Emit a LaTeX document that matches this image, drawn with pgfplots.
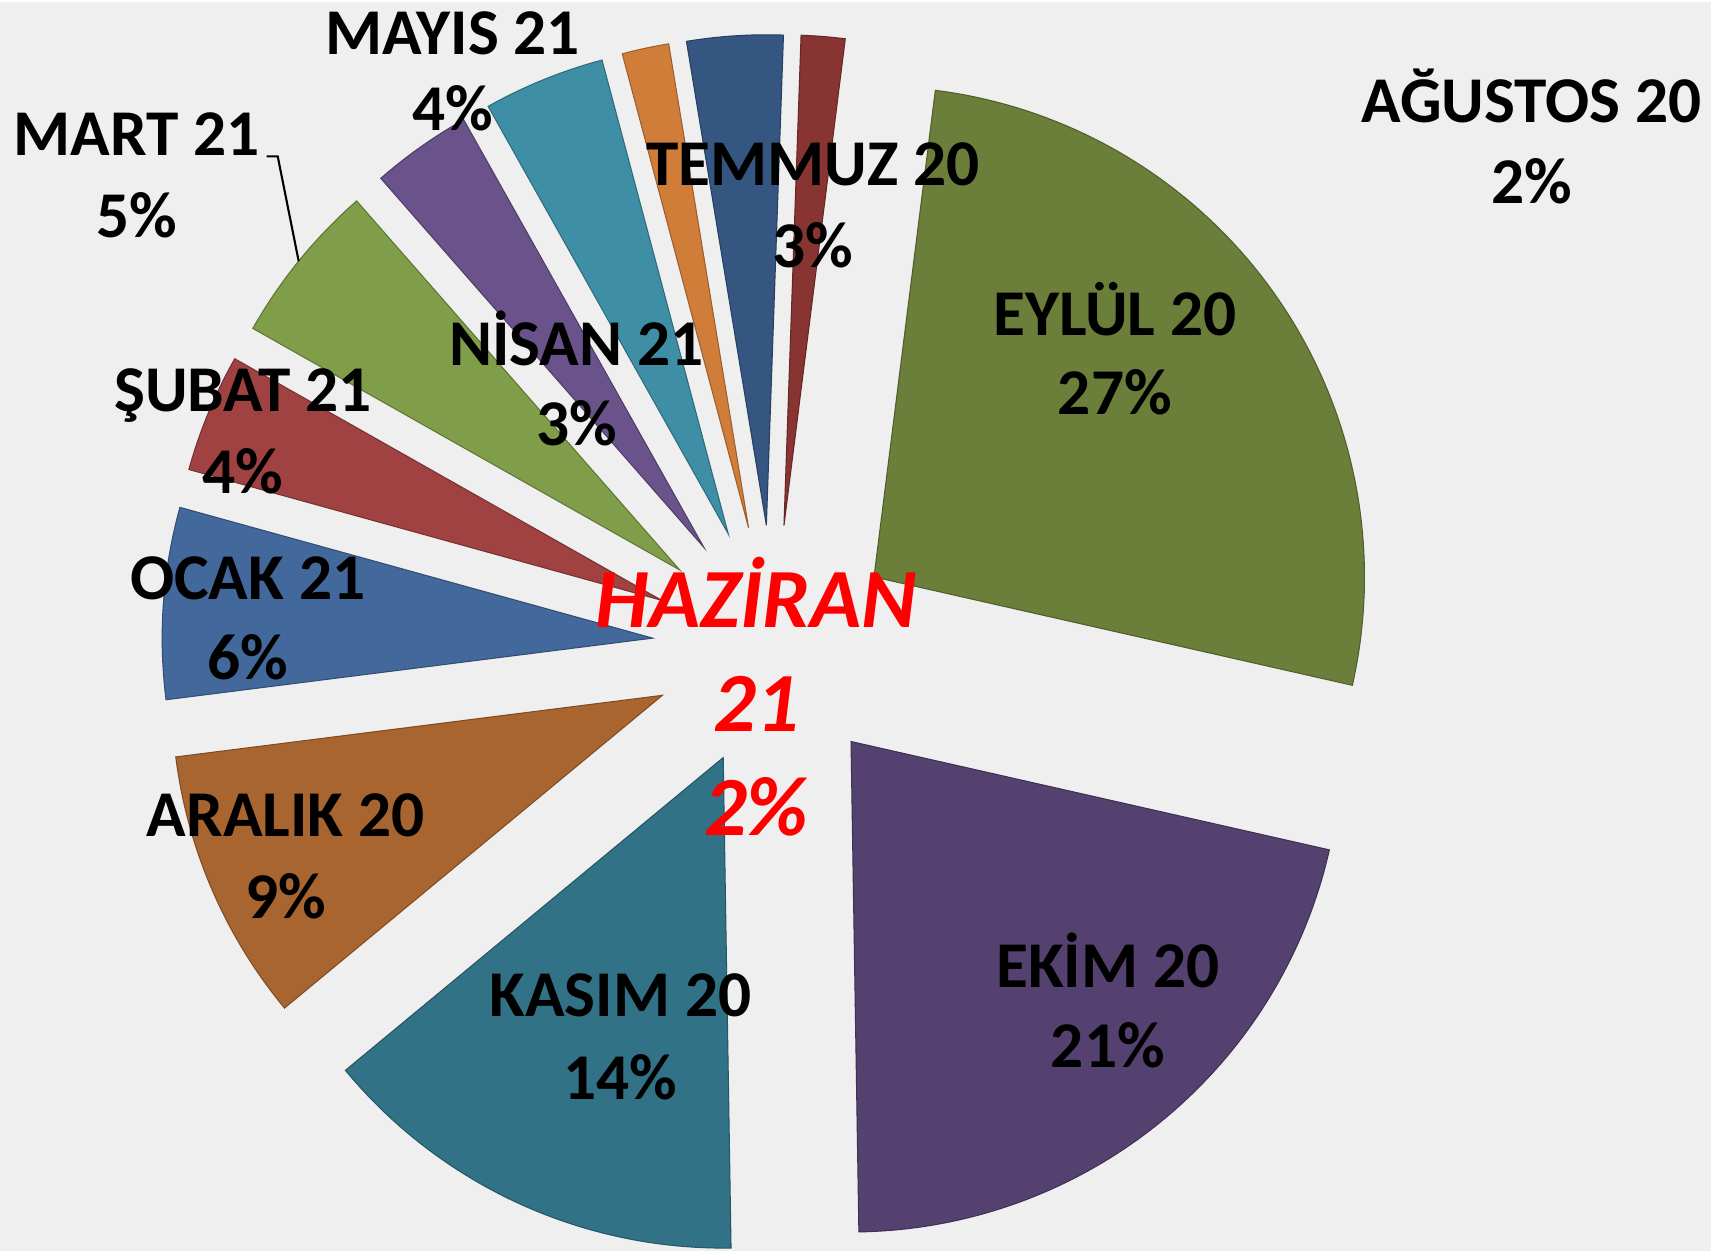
\documentclass[border=0pt]{standalone}
\usepackage{pgfplots}
\pgfplotsset{compat=1.18}
\usepackage{fontspec}
\setmainfont{Carlito}
\definecolor{bg}{HTML}{EFEFEF}
\definecolor{cAgu}{HTML}{873433}
\definecolor{cEyl}{HTML}{6B7E3A}
\definecolor{cEki}{HTML}{544170}
\definecolor{cKas}{HTML}{327287}
\definecolor{cAra}{HTML}{A9652F}
\definecolor{cOca}{HTML}{43689B}
\definecolor{cSub}{HTML}{A04242}
\definecolor{cMar}{HTML}{809D4A}
\definecolor{cNis}{HTML}{6A528A}
\definecolor{cMay}{HTML}{3E8FA6}
\definecolor{cHaz}{HTML}{D07D3A}
\definecolor{cTem}{HTML}{355680}
\newcommand\lab{\bfseries\fontsize{18.6}{25}\selectfont}
\newcommand\hlab{\bfseries\itshape\fontsize{24}{30}\selectfont}
% pie geometry (axis units = pixels)
\def\pcx{775}\def\pcy{605}\def\pr{491}\def\pd{122}\def\pstart{2}
\gdef\cum{0}
\newcommand\slice[2]{%
 \pgfmathsetmacro\sa{\pstart+\cum*3.6}%
 \pgfmathsetmacro\se{\pstart+(\cum+#1)*3.6}%
 \pgfmathsetmacro\sm{(\sa+\se)/2}%
 \pgfmathsetmacro\tx{\pcx+\pd*sin(\sm)}%
 \pgfmathsetmacro\ty{\pcy+\pd*cos(\sm)}%
 \pgfmathsetmacro\newcum{\cum+#1}\xdef\cum{\newcum}%
 \edef\temp{\noexpand\addplot[fill=#2, draw=#2!75!black, line width=0.3pt, domain=\sa:\se, samples=80] ({\tx+\pr*sin(x)}, {\ty+\pr*cos(x)}) -- (axis cs:\tx,\ty) -- cycle;}%
 \temp}
\begin{document}
\begin{tikzpicture}
\fill[bg] (0,0) rectangle (17.13cm,12.51cm);
\begin{axis}[width=17.13cm, height=12.51cm, scale only axis,
  xmin=0, xmax=1713, ymin=0, ymax=1251, axis lines=none, clip=false]
% shares in percent, clockwise
\slice{1.44}{cAgu}   % AĞUSTOS 20
\slice{26.55}{cEyl}  % EYLÜL 20
\slice{21.2}{cEki}   % EKİM 20
\slice{14.25}{cKas}  % KASIM 20
\slice{9.0}{cAra}    % ARALIK 20
\slice{6.3}{cOca}    % OCAK 21
\slice{3.9}{cSub}    % ŞUBAT 21
\slice{5.36}{cMar}   % MART 21
\slice{3.3}{cNis}    % NİSAN 21
\slice{4.0}{cMay}    % MAYIS 21
\slice{1.54}{cHaz}   % HAZİRAN 21
\slice{3.16}{cTem}   % TEMMUZ 20
% leader line
\draw[black, line width=0.6pt] (axis cs:267,1096) -- (axis cs:278,1096) -- (axis cs:299,991);
% labels
\node[anchor=base, font=\lab] at (axis cs:453,1198) {MAYIS 21};
\node[anchor=base, font=\lab] at (axis cs:453,1122) {4\%};
\node[anchor=base, font=\lab] at (axis cs:137,1097) {MART 21};
\node[anchor=base, font=\lab] at (axis cs:137,1015) {5\%};
\node[anchor=base, font=\lab] at (axis cs:814,1067) {TEMMUZ 20};
\node[anchor=base, font=\lab] at (axis cs:814,985) {3\%};
\node[anchor=base, font=\lab] at (axis cs:1533,1130) {AĞUSTOS 20};
\node[anchor=base, font=\lab] at (axis cs:1533,1049) {2\%};
\node[anchor=base, font=\lab] at (axis cs:1116,917) {EYLÜL 20};
\node[anchor=base, font=\lab] at (axis cs:1116,838) {27\%};
\node[anchor=base, font=\lab] at (axis cs:577,887) {NİSAN 21};
\node[anchor=base, font=\lab] at (axis cs:577,807) {3\%};
\node[anchor=base, font=\lab] at (axis cs:243,841) {ŞUBAT 21};
\node[anchor=base, font=\lab] at (axis cs:243,759) {4\%};
\node[anchor=base, font=\lab] at (axis cs:248,652) {OCAK 21};
\node[anchor=base, font=\lab] at (axis cs:248,572) {6\%};
\node[anchor=base, font=\lab] at (axis cs:286,415) {ARALIK 20};
\node[anchor=base, font=\lab] at (axis cs:286,333) {9\%};
\node[anchor=base, font=\lab] at (axis cs:1109,264) {EKİM 20};
\node[anchor=base, font=\lab] at (axis cs:1109,184) {21\%};
\node[anchor=base, font=\lab] at (axis cs:621,235) {KASIM 20};
\node[anchor=base, font=\lab] at (axis cs:621,152) {14\%};
\node[anchor=base, font=\hlab, text=red] at (axis cs:757,624) {HAZİRAN};
\node[anchor=base, font=\hlab, text=red] at (axis cs:757,520) {21};
\node[anchor=base, font=\hlab, text=red] at (axis cs:757,416) {2\%};
\end{axis}
\end{tikzpicture}
\end{document}
